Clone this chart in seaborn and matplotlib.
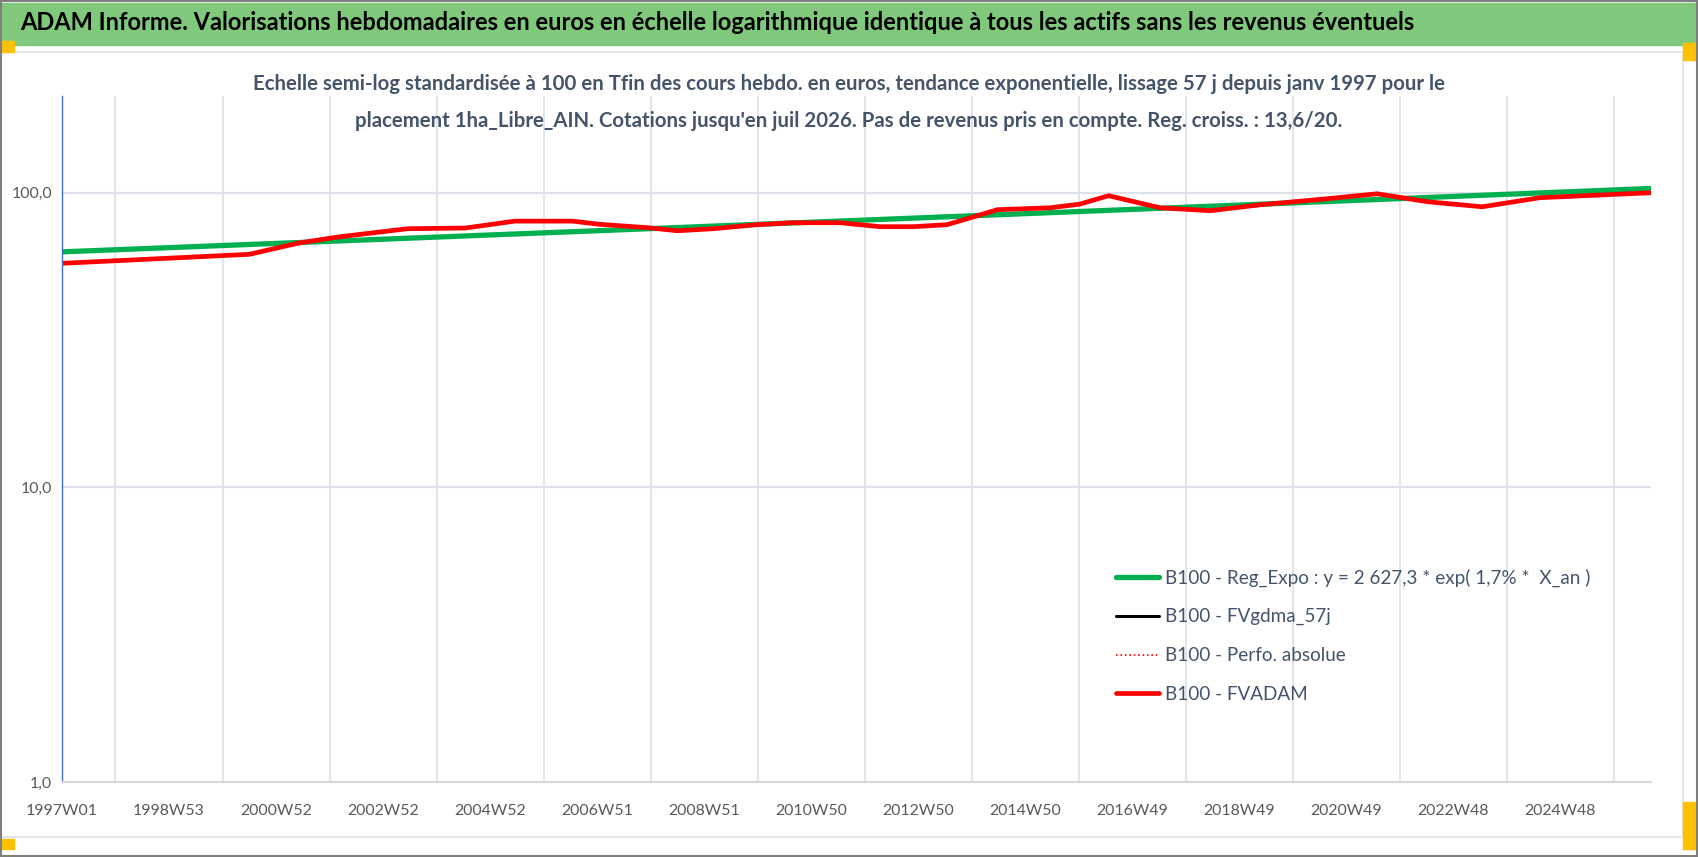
import matplotlib
matplotlib.use('Agg')
import matplotlib.pyplot as plt
from matplotlib.patches import Rectangle
from matplotlib.lines import Line2D
import numpy as np
import pandas as pd
import seaborn as sns

# Week index (0 = 1997W01) and values
red_weeks = [0, 182, 230, 270, 336, 392, 440, 496, 523, 569, 598, 633, 675, 710, 756,
             795, 827, 860, 909, 960, 989, 1017, 1067, 1116, 1164, 1229, 1278,
             1327, 1380, 1436, 1544]
red_values = [57.6, 61.8, 67.5, 70.9, 75.5, 75.9, 80.1, 80.1, 78.1, 76.1, 74.3, 75.5,
              77.9, 79.1, 79.1, 76.7, 76.7, 77.9, 87.6, 88.9, 91.5, 97.7, 88.9, 86.9,
              91.0, 95.4, 99.2, 93.2, 89.6, 96.2, 100.0]

green_weeks = [0, 520, 1040, 1544]
green_values = [63.0, 74.3, 87.8, 103.4]

tick_weeks = [0, 104, 208, 312, 416, 520, 624, 728, 832, 936, 1040, 1144, 1248, 1352, 1456]
tick_labels = ['1997W01', '1998W53', '2000W52', '2002W52', '2004W52', '2006W51',
               '2008W51', '2010W50', '2012W50', '2014W50', '2016W49', '2018W49',
               '2020W49', '2022W48', '2024W48']
grid_weeks = list(range(0, 1545, 52))

leg_labels = ['B100 - Reg_Expo : y = 2 627,3 * exp( 1,7% *  X_an )',
              'B100 - FVgdma_57j',
              'B100 - Perfo. absolue',
              'B100 - FVADAM']

title = ('ADAM Informe. Valorisations hebdomadaires en euros en échelle '
         'logarithmique identique à tous les actifs sans les revenus éventuels')
sub1 = ("Echelle semi-log standardisée à 100 en Tfin des cours hebdo. en euros, "
        "tendance exponentielle, lissage 57 j depuis janv 1997 pour le")
sub2 = ("placement 1ha_Libre_AIN. Cotations jusqu'en juil 2026. Pas de revenus "
        "pris en compte. Reg. croiss. : 13,6/20.")

df_red = pd.DataFrame({'week': red_weeks, 'value': red_values})
df_green = pd.DataFrame({'week': green_weeks, 'value': green_values})

sns.set_style('white')
plt.rcParams['font.family'] = ['Lato', 'DejaVu Sans']

txt_col = '#44546A'
tick_col = '#595959'

fig = plt.figure(figsize=(16.98, 8.57), dpi=100)
renderer = fig.canvas.get_renderer()


def fit_size(s, width_px, weight='normal'):
    # font size that makes the string about width_px wide
    t = fig.text(0, 0, s, fontsize=20, fontweight=weight)
    w = t.get_window_extent(renderer).width
    t.remove()
    return 20 * width_px / w


ax = fig.add_axes([0.0365, 0.0875, 0.9358, 0.8005])

sns.lineplot(data=df_green, x='week', y='value', ax=ax, color='#00B050', lw=3.8)
# the moving average and absolute perf sit under the FVADAM line
sns.lineplot(data=df_red, x='week', y='value', ax=ax, color='black', lw=2.2)
sns.lineplot(data=df_red, x='week', y='value', ax=ax, color='red', lw=1.2, linestyle=':')
sns.lineplot(data=df_red, x='week', y='value', ax=ax, color='#FF0000', lw=3.4)

ax.set_yscale('log')
ax.set_ylim(1, 213)
ax.set_xlim(0, 1544)
ax.set_yticks([1, 10, 100])
ax.set_yticklabels(['1,0', '10,0', '100,0'])
ax.yaxis.set_minor_locator(matplotlib.ticker.NullLocator())
ax.set_xticks(tick_weeks)
ax.set_xticklabels(tick_labels)
ax.set_xticks(grid_weeks, minor=True)
ax.set_xlabel('')
ax.set_ylabel('')

tick_size = fit_size('1997W01', 72)
ax.tick_params(axis='x', which='both', length=6, color='#D9D9D9', labelsize=tick_size,
               labelcolor=tick_col, pad=10)
ax.tick_params(axis='y', length=0, labelsize=tick_size, labelcolor=tick_col, pad=7)
ax.grid(axis='x', which='minor', color='#DCE1EA', lw=1.2)
ax.grid(axis='y', which='major', color='#DCE1EA', lw=1.5)
for s in ['top', 'right']:
    ax.spines[s].set_visible(False)
ax.spines['left'].set_color('#4472C4')
ax.spines['left'].set_linewidth(1)
ax.spines['bottom'].set_color('#D9D9D9')
ax.spines['bottom'].set_linewidth(1.5)

handles = [Line2D([], [], color='#00B050', lw=3.8),
           Line2D([], [], color='black', lw=2.2),
           Line2D([], [], color='red', lw=1.2, linestyle=':'),
           Line2D([], [], color='#FF0000', lw=3.4)]
leg_size = fit_size(leg_labels[0], 423)
leg = ax.legend(handles, leg_labels, loc='upper left', bbox_to_anchor=(0.657, 0.337),
                bbox_transform=fig.transFigure, frameon=False, fontsize=leg_size,
                handlelength=2.3, handletextpad=0.3, labelspacing=1.15,
                borderpad=0, borderaxespad=0)
for t in leg.get_texts():
    t.set_color(txt_col)

# green banner with the main title
fig.patches.append(Rectangle((0, 0.948), 1, 0.049, transform=fig.transFigure,
                             color='#80C97C', zorder=0))
fig.text(0.012, 0.974, title, fontsize=fit_size(title, 1397, 'bold'),
         fontweight='bold', color='black', va='center', ha='left')

sub_size = fit_size(sub1, 1195, 'bold')
fig.text(0.5, 0.902, sub1, fontsize=sub_size, fontweight='bold', color=txt_col,
         ha='center', va='center')
fig.text(0.5, 0.859, sub2, fontsize=sub_size, fontweight='bold', color=txt_col,
         ha='center', va='center')

# chart frame bits (selection handles and light border)
fig.add_artist(Line2D([0, 0.991], [0.939, 0.939], transform=fig.transFigure,
                      color='#E6E6E6', lw=1.5))
fig.add_artist(Line2D([0, 0.991], [0.023, 0.023], transform=fig.transFigure,
                      color='#E6E6E6', lw=1.5))
fig.add_artist(Line2D([0.991, 0.991], [0.023, 0.939], transform=fig.transFigure,
                      color='#E6E6E6', lw=1.5))
for (x0, y0, w, h) in [(0, 0.939, 0.008, 0.013), (0.991, 0.93, 0.009, 0.02),
                       (0, 0.009, 0.008, 0.012), (0.991, 0.009, 0.009, 0.055)]:
    fig.patches.append(Rectangle((x0, y0), w, h, transform=fig.transFigure,
                                 color='#FFC000', zorder=3))
fig.patches.append(Rectangle((0.0005, 0.001), 0.999, 0.998, transform=fig.transFigure,
                             fill=False, edgecolor='#7F7F7F', lw=1.5, zorder=4))

fig.savefig('out.png', dpi=100)
